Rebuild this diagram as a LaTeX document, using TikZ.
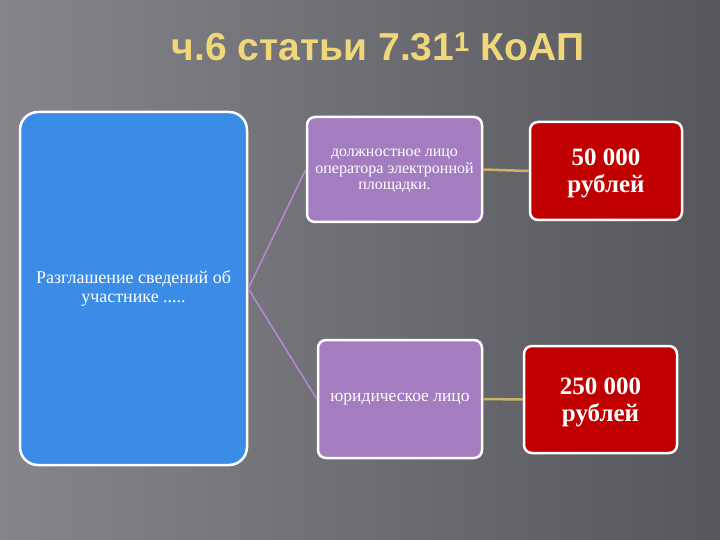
\documentclass[tikz,border=0pt]{standalone}
\usepackage{fontspec}
\setmainfont{Liberation Serif}
\newfontfamily\titlefont{Liberation Sans}
\definecolor{bgdark}{HTML}{56575D}
\definecolor{bglight}{HTML}{85858B}
\definecolor{titleyellow}{HTML}{EFD77A}
\definecolor{boxblue}{HTML}{3A8CE6}
\definecolor{boxpurple}{HTML}{A47CC0}
\definecolor{boxred}{HTML}{C00000}
\definecolor{linepurple}{HTML}{B58AD0}
\definecolor{lineyellow}{HTML}{C9B466}
\begin{document}
\begin{tikzpicture}[x=1pt, y=-1pt,
  every node/.style={draw=white, line width=2.5pt, text=white, align=center, inner sep=0pt},
  blue/.style={fill=boxblue, rounded corners=18pt, minimum width=227pt, minimum height=353pt, font=\fontsize{18}{19}\selectfont},
  purple/.style={fill=boxpurple, rounded corners=8pt, font=\fontsize{16}{16.5}\selectfont},
  red/.style={fill=boxred, rounded corners=8pt, font=\bfseries\fontsize{25}{27}\selectfont},
  link/.style={line width=1.5pt}]
  \shade[left color=bglight, right color=bgdark] (0,0) rectangle (720,540);
  \node[draw=none, text=titleyellow, font=\titlefont\bfseries\fontsize{39}{42}\selectfont] (title) at (378,47) {ч.6 статьи 7.31\textsuperscript{1} КоАП};
  \node[blue] (b0) at (133.5,288.5) {Разглашение сведений об\\участнике .....};
  \node[purple, minimum width=175pt, minimum height=105pt, text depth=0pt] (p1) at (394.5,169.5) {должностное лицо\\оператора электронной\\площадки.};
  \node[purple, minimum width=164pt, minimum height=118pt, font=\fontsize{17.5}{18}\selectfont] (p2) at (400,399) {юридическое лицо};
  \node[red, minimum width=152pt, minimum height=98pt, text depth=0pt] (r1) at (606,171) {50 000\\рублей};
  \node[red, minimum width=153pt, minimum height=107pt, text depth=0pt] (r2) at (600.5,399.5) {250 000\\рублей};
  \draw[link, linepurple] (b0.east) -- (p1.west);
  \draw[link, linepurple] (b0.east) -- (p2.west);
  \draw[link, lineyellow, line width=2.5pt] (p1.east) -- (r1.west);
  \draw[link, lineyellow, line width=2.5pt] (p2.east) -- (r2.west);
\end{tikzpicture}
\end{document}
